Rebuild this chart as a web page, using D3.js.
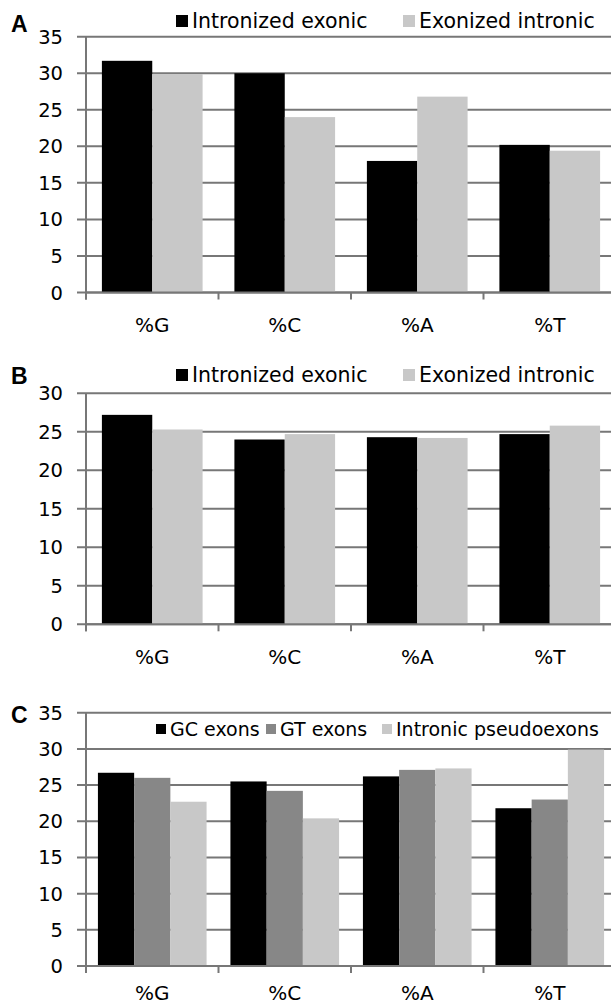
<!DOCTYPE html>
<html>
<head>
<meta charset="utf-8">
<script src="https://cdn.jsdelivr.net/npm/d3@7"></script>
<style>
  body { margin: 0; background: #fff; }
  svg { display: block; }
  text { font-family: "DejaVu Sans", Verdana, sans-serif; fill: #000; }
</style>
</head>
<body>
<svg id="chart" width="611" height="1004"></svg>
<script>
// categories and values
const bases = ["%G", "%C", "%A", "%T"];

const seriesAB = ["Intronized exonic", "Exonized intronic"];
const colorsAB = ["#000000", "#c8c8c8"];

const aIntronized = [31.7, 30.0, 18.0, 20.2];
const aExonized = [29.9, 24.0, 26.8, 19.4];

const bIntronized = [27.2, 24.0, 24.3, 24.7];
const bExonized = [25.3, 24.7, 24.2, 25.8];

const seriesC = ["GC exons", "GT exons", "Intronic pseudoexons"];
const colorsC = ["#000000", "#878787", "#c8c8c8"];

const cGC = [26.7, 25.5, 26.2, 21.8];
const cGT = [26.0, 24.2, 27.1, 23.0];
const cPseudo = [22.7, 20.4, 27.3, 29.9];

const ticksA = [0, 5, 10, 15, 20, 25, 30, 35];
const ticksB = [0, 5, 10, 15, 20, 25, 30];
const ticksC = [0, 5, 10, 15, 20, 25, 30, 35];

const svg = d3.select("#chart");
const gridColor = "#777777";

// plot runs past the right edge of the picture (it is cropped there)
const left = 86, right = 616;

function drawPanel(p) {
  const g = svg.append("g");

  const x = d3.scaleBand().domain(bases).range([left, right]).paddingInner(0).paddingOuter(0);
  const y = d3.scaleLinear().domain([0, d3.max(p.ticks)]).range([p.bottom, p.top]);

  const pad = x.bandwidth() * p.groupPad;
  const xs = d3.scaleBand().domain(p.series).range([pad, x.bandwidth() - pad]);

  // gridlines (they also make the y tick marks)
  g.selectAll(".grid")
    .data(p.ticks)
    .enter()
    .append("line")
    .attr("x1", left - 9)
    .attr("x2", right)
    .attr("y1", d => y(d))
    .attr("y2", d => y(d))
    .attr("stroke", gridColor)
    .attr("stroke-width", 2);

  // y labels
  g.selectAll(".ylab")
    .data(p.ticks)
    .enter()
    .append("text")
    .attr("x", 63)
    .attr("y", d => y(d))
    .attr("dy", "0.36em")
    .attr("text-anchor", "end")
    .style("font-size", "19.5px")
    .text(d => d);

  // bars
  const rows = bases.map((b, i) => ({ base: b, vals: p.values.map(v => v[i]) }));
  const groups = g.selectAll(".grp")
    .data(rows)
    .enter()
    .append("g")
    .attr("transform", d => `translate(${x(d.base)},0)`);

  groups.selectAll("rect")
    .data(d => d.vals.map((v, j) => ({ s: p.series[j], v: v, c: p.colors[j] })))
    .enter()
    .append("rect")
    .attr("x", d => xs(d.s))
    .attr("y", d => y(d.v))
    .attr("width", xs.bandwidth())
    .attr("height", d => y(0) - y(d.v))
    .attr("fill", d => d.c);

  // y axis line
  g.append("line")
    .attr("x1", left).attr("x2", left)
    .attr("y1", y(d3.max(p.ticks))).attr("y2", y(0) + 7)
    .attr("stroke", gridColor).attr("stroke-width", 2);

  // x axis line + ticks between the categories
  g.append("line")
    .attr("x1", left).attr("x2", right)
    .attr("y1", y(0)).attr("y2", y(0))
    .attr("stroke", gridColor).attr("stroke-width", 2);

  g.selectAll(".xtick")
    .data(bases)
    .enter()
    .append("line")
    .attr("x1", d => x(d)).attr("x2", d => x(d))
    .attr("y1", y(0)).attr("y2", y(0) + 7)
    .attr("stroke", gridColor).attr("stroke-width", 2);

  g.selectAll(".xlab")
    .data(bases)
    .enter()
    .append("text")
    .attr("x", d => x(d) + x.bandwidth() / 2)
    .attr("y", y(0) + p.labelOffset)
    .attr("text-anchor", "middle")
    .style("font-size", "20px")
    .text(d => d);

  // panel letter
  g.append("text")
    .attr("x", 11)
    .attr("y", p.letterY)
    .style("font-family", "'Liberation Sans', Arial, sans-serif")
    .style("font-weight", "bold")
    .style("font-size", "23px")
    .text(p.letter);

  // legend
  const leg = g.selectAll(".leg")
    .data(p.series)
    .enter()
    .append("g")
    .attr("transform", (d, i) => `translate(${p.legendX[i]},${p.legendY})`);

  leg.append("rect")
    .attr("x", 0)
    .attr("y", -p.legendBox / 2)
    .attr("width", p.legendBox)
    .attr("height", p.legendBox)
    .attr("fill", (d, i) => p.colors[i]);

  leg.append("text")
    .attr("x", p.legendBox + 4)
    .attr("y", 0)
    .attr("dy", "0.36em")
    .style("font-size", p.legendFont + "px")
    .text(d => d);
}

drawPanel({
  letter: "A", letterY: 32,
  series: seriesAB, colors: colorsAB,
  values: [aIntronized, aExonized],
  ticks: ticksA, top: 36.7, bottom: 292.5,
  groupPad: 0.12, labelOffset: 39,
  legendX: [176, 403], legendY: 21, legendBox: 12, legendFont: 20.5
});

drawPanel({
  letter: "B", letterY: 384,
  series: seriesAB, colors: colorsAB,
  values: [bIntronized, bExonized],
  ticks: ticksB, top: 393.3, bottom: 624.3,
  groupPad: 0.12, labelOffset: 40,
  legendX: [176, 403], legendY: 375, legendBox: 12, legendFont: 20.5
});

drawPanel({
  letter: "C", letterY: 723,
  series: seriesC, colors: colorsC,
  values: [cGC, cGT, cPseudo],
  ticks: ticksC, top: 712.7, bottom: 966,
  groupPad: 0.09, labelOffset: 34,
  legendX: [156, 266, 382], legendY: 729, legendBox: 10, legendFont: 19
});
</script>
</body>
</html>
